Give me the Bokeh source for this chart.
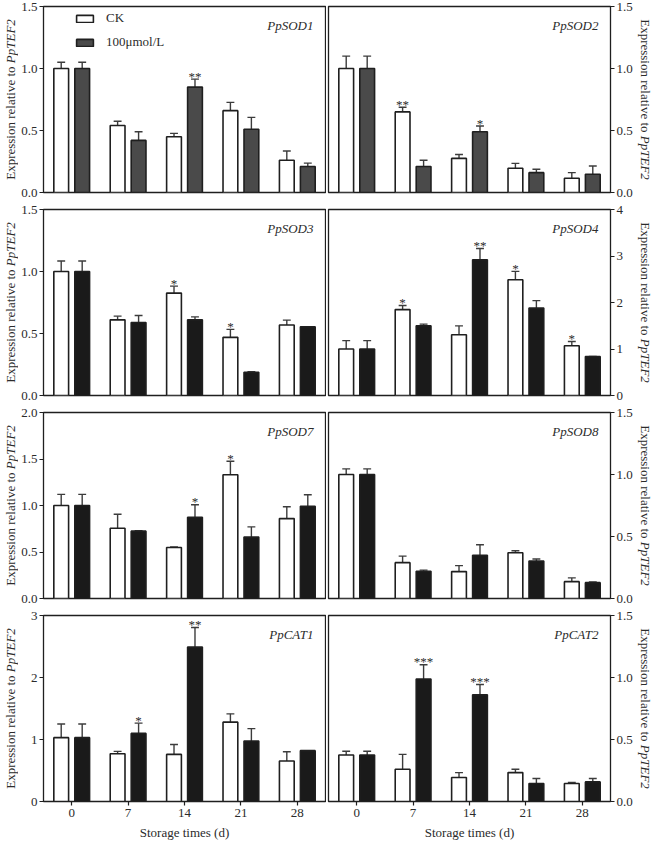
import math
from bokeh.plotting import figure
from bokeh.models import (FactorRange, Range1d, FixedTicker, PrintfTickFormatter,
                          ColumnDataSource, Label)
from bokeh.transform import dodge
from bokeh.layouts import gridplot, row
from bokeh.core.properties import value
from bokeh.embed import file_html
from bokeh.resources import INLINE

# ---------------- data ----------------
days = ["0", "7", "14", "21", "28"]
series_names = ["CK", "100μmol/L"]
genes = ["PpSOD1", "PpSOD2", "PpSOD3", "PpSOD4", "PpSOD7", "PpSOD8", "PpCAT1", "PpCAT2"]

sod1_ck = [1.00, 0.54, 0.45, 0.66, 0.26]
sod1_ck_err = [0.05, 0.035, 0.027, 0.067, 0.075]
sod1_tr = [1.00, 0.42, 0.85, 0.51, 0.21]
sod1_tr_err = [0.05, 0.07, 0.064, 0.096, 0.027]
sod1_ck_sig = ["", "", "", "", ""]
sod1_tr_sig = ["", "", "**", "", ""]

sod2_ck = [1.00, 0.65, 0.275, 0.195, 0.115]
sod2_ck_err = [0.10, 0.037, 0.032, 0.04, 0.045]
sod2_tr = [1.00, 0.21, 0.49, 0.16, 0.147]
sod2_tr_err = [0.10, 0.05, 0.046, 0.027, 0.067]
sod2_ck_sig = ["", "**", "", "", ""]
sod2_tr_sig = ["", "", "*", "", ""]

sod3_ck = [1.00, 0.61, 0.826, 0.469, 0.568]
sod3_ck_err = [0.085, 0.03, 0.056, 0.064, 0.04]
sod3_tr = [1.00, 0.589, 0.61, 0.187, 0.554]
sod3_tr_err = [0.085, 0.056, 0.024, 0.004, 0.0]
sod3_ck_sig = ["", "", "*", "*", ""]
sod3_tr_sig = ["", "", "", "", ""]

sod4_ck = [1.00, 1.847, 1.307, 2.49, 1.07]
sod4_ck_err = [0.18, 0.09, 0.19, 0.18, 0.09]
sod4_tr = [1.00, 1.50, 2.92, 1.88, 0.838]
sod4_tr_err = [0.18, 0.035, 0.24, 0.16, 0.0]
sod4_ck_sig = ["", "*", "", "*", "*"]
sod4_tr_sig = ["", "", "**", "", ""]

sod7_ck = [1.00, 0.756, 0.549, 1.33, 0.859]
sod7_ck_err = [0.12, 0.15, 0.006, 0.146, 0.128]
sod7_tr = [1.00, 0.724, 0.873, 0.66, 0.991]
sod7_tr_err = [0.12, 0.005, 0.135, 0.11, 0.125]
sod7_ck_sig = ["", "", "", "*", ""]
sod7_tr_sig = ["", "", "*", "", ""]

sod8_ck = [1.00, 0.289, 0.217, 0.369, 0.136]
sod8_ck_err = [0.045, 0.053, 0.048, 0.016, 0.03]
sod8_tr = [1.00, 0.219, 0.348, 0.302, 0.128]
sod8_tr_err = [0.045, 0.01, 0.085, 0.016, 0.005]
sod8_ck_sig = ["", "", "", "", ""]
sod8_tr_sig = ["", "", "", "", ""]

cat1_ck = [1.03, 0.771, 0.76, 1.28, 0.653]
cat1_ck_err = [0.22, 0.038, 0.16, 0.134, 0.15]
cat1_tr = [1.03, 1.098, 2.49, 0.975, 0.82]
cat1_tr_err = [0.22, 0.166, 0.316, 0.2, 0.0]
cat1_ck_sig = ["", "", "", "", ""]
cat1_tr_sig = ["", "*", "**", "", ""]

cat2_ck = [0.375, 0.26, 0.193, 0.233, 0.145]
cat2_ck_err = [0.03, 0.12, 0.04, 0.027, 0.008]
cat2_tr = [0.375, 0.988, 0.86, 0.145, 0.158]
cat2_tr_err = [0.03, 0.115, 0.083, 0.04, 0.027]
cat2_ck_sig = ["", "", "", "", ""]
cat2_tr_sig = ["", "***", "***", "", ""]

y_max = [1.5, 1.5, 1.5, 4, 2.0, 1.5, 3, 1.5]
ticks_a = [0, 0.5, 1.0, 1.5]
ticks_b = [0, 1, 2, 3, 4]
ticks_c = [0, 0.5, 1.0, 1.5, 2.0]
ticks_d = [0, 1, 2, 3]
y_ticks = [ticks_a, ticks_a, ticks_a, ticks_b, ticks_c, ticks_a, ticks_d, ticks_a]
tick_fmt = ["%.1f", "%.1f", "%.1f", "%d", "%.1f", "%.1f", "%d", "%.1f"]

ylab_regular = "Expression relative to "
ylab_italic = "PpTEF2"
xlab = "Storage times (d)"

panels = [
    (sod1_ck, sod1_ck_err, sod1_tr, sod1_tr_err, sod1_ck_sig, sod1_tr_sig),
    (sod2_ck, sod2_ck_err, sod2_tr, sod2_tr_err, sod2_ck_sig, sod2_tr_sig),
    (sod3_ck, sod3_ck_err, sod3_tr, sod3_tr_err, sod3_ck_sig, sod3_tr_sig),
    (sod4_ck, sod4_ck_err, sod4_tr, sod4_tr_err, sod4_ck_sig, sod4_tr_sig),
    (sod7_ck, sod7_ck_err, sod7_tr, sod7_tr_err, sod7_ck_sig, sod7_tr_sig),
    (sod8_ck, sod8_ck_err, sod8_tr, sod8_tr_err, sod8_ck_sig, sod8_tr_sig),
    (cat1_ck, cat1_ck_err, cat1_tr, cat1_tr_err, cat1_ck_sig, cat1_tr_sig),
    (cat2_ck, cat2_ck_err, cat2_tr, cat2_tr_err, cat2_ck_sig, cat2_tr_sig),
]

# ---------------- style / layout ----------------
FONT = "Liberation Serif"
FW, FH = 283, 186          # frame size
TXT = "#2b2b2b"
LINE = "#1f1f1f"
ERR = "#3c3c3c"
CK_FILL = "white"
TR_FILL_TOP = "#4a4a4a"
TR_FILL = "#1a1a1a"
OFF = 0.186
BW = 0.262
CAP = 0.07
REG_LEN = 116.6
YLAB_LEN = REG_LEN + 44.0

LAB_L_W, LAB_R_W = 18, 19          # side strips for the y titles
LAB_L_X, LAB_R_X = 10, 10
BORD_L = (24, 1)                   # left / right border, left column
BORD_R = (2, 24)                   # left / right border, right column
BORD_T = [6, 8, 8, 8]
BORD_B = [9, 9, 9, 43]
ROW_H = [BORD_T[r] + FH + BORD_B[r] for r in range(4)]
TOTAL_H = sum(ROW_H)


def make_panel(i):
    ck, ck_e, tr, tr_e, ck_s, tr_s = panels[i]
    r = i // 2
    left = (i % 2 == 0)
    bottom = (r == 3)
    bl, br = BORD_L if left else BORD_R
    bt, bb = BORD_T[r], BORD_B[r]
    p = figure(
        x_range=FactorRange(factors=days, range_padding=0),
        y_range=Range1d(0, y_max[i]),
        width=bl + FW + br, height=bt + FH + bb,
        min_border_left=bl, min_border_right=br,
        min_border_top=bt, min_border_bottom=bb,
        x_axis_location="below" if bottom else None,
        y_axis_location="left" if left else "right",
        toolbar_location=None, output_backend="svg",
        background_fill_color="white", border_fill_color="white",
    )
    p.grid.visible = False
    p.outline_line_color = LINE
    p.outline_line_width = 1.3

    src = ColumnDataSource(dict(
        day=days, ck=ck, tr=tr,
        ck_top=[a + b for a, b in zip(ck, ck_e)],
        tr_top=[a + b for a, b in zip(tr, tr_e)],
        ck_sig=ck_s, tr_sig=tr_s,
    ))
    rng = p.x_range
    for off, val, top in [(-OFF, "ck", "ck_top"), (OFF, "tr", "tr_top")]:
        p.segment(x0=dodge("day", off, range=rng), y0=val,
                  x1=dodge("day", off, range=rng), y1=top,
                  source=src, line_color=ERR, line_width=1.4)
        p.segment(x0=dodge("day", off - CAP, range=rng), y0=top,
                  x1=dodge("day", off + CAP, range=rng), y1=top,
                  source=src, line_color=ERR, line_width=1.4)

    tr_fill = TR_FILL_TOP if i < 2 else TR_FILL
    kw_ck = dict(legend_label=series_names[0]) if i == 0 else {}
    kw_tr = dict(legend_label=series_names[1]) if i == 0 else {}
    p.vbar(x=dodge("day", -OFF, range=rng), top="ck", width=BW, bottom=0,
           source=src, fill_color=CK_FILL, line_color=LINE, line_width=1.6, **kw_ck)
    p.vbar(x=dodge("day", OFF, range=rng), top="tr", width=BW, bottom=0,
           source=src, fill_color=tr_fill, line_color=LINE, line_width=1.6, **kw_tr)

    for off, top, sig in [(-OFF, "ck_top", "ck_sig"), (OFF, "tr_top", "tr_sig")]:
        p.text(x=dodge("day", off, range=rng), y=top, text=sig, source=src,
               text_font=value(FONT), text_font_size="13px", text_color=TXT,
               text_align="center", text_baseline="alphabetic", y_offset=-3)

    ax = p.yaxis[0]
    ax.ticker = FixedTicker(ticks=y_ticks[i])
    ax.formatter = PrintfTickFormatter(format=tick_fmt[i])
    ax.major_tick_in = 0
    ax.major_tick_out = 4
    ax.minor_tick_in = 0
    ax.minor_tick_out = 0
    ax.major_label_standoff = 2
    ax.axis_line_color = LINE
    ax.major_tick_line_color = LINE
    ax.major_tick_line_width = 1.2
    ax.major_label_text_font = FONT
    ax.major_label_text_font_size = "13px"
    ax.major_label_text_color = TXT

    if bottom:
        xa = p.xaxis[0]
        xa.major_tick_in = 0
        xa.major_tick_out = 4
        xa.major_label_standoff = 3
        xa.axis_line_color = LINE
        xa.major_tick_line_color = LINE
        xa.major_tick_line_width = 1.2
        xa.major_label_text_font = FONT
        xa.major_label_text_font_size = "13px"
        xa.major_label_text_color = TXT
        xa.axis_label = xlab
        xa.axis_label_standoff = 5
        xa.axis_label_text_font = FONT
        xa.axis_label_text_font_size = "13px"
        xa.axis_label_text_font_style = "normal"
        xa.axis_label_text_color = TXT

    p.add_layout(Label(x=FW - 13, y=FH - 19, x_units="screen", y_units="screen",
                       text=genes[i], text_font=FONT, text_font_size="13px",
                       text_font_style="italic", text_color=TXT,
                       text_align="right", text_baseline="middle"))

    if i == 0:
        lg = p.legend[0]
        lg.location = (31, FH - 44)
        lg.padding = 0
        lg.margin = 0
        lg.spacing = 8
        lg.glyph_width = 21
        lg.glyph_height = 9
        lg.label_height = 13
        lg.label_standoff = 11
        lg.label_text_font = FONT
        lg.label_text_font_size = "13px"
        lg.label_text_color = TXT
        lg.border_line_color = None
        lg.background_fill_alpha = 0
    return p


def make_title_strip(width, xc, left):
    """Narrow strip holding the rotated y-axis titles of one column."""
    s = figure(width=width, height=TOTAL_H, x_range=Range1d(0, width),
               y_range=Range1d(0, TOTAL_H), min_border=0,
               x_axis_location=None, y_axis_location=None,
               toolbar_location=None, output_backend="svg",
               background_fill_color="white", border_fill_color="white")
    s.grid.visible = False
    s.outline_line_color = None
    centers = []
    top = 0
    for r in range(4):
        centers.append(TOTAL_H - (top + BORD_T[r] + FH / 2))
        top += ROW_H[r]
    if left:
        y_reg = [c - YLAB_LEN / 2 for c in centers]
        y_it = [c - YLAB_LEN / 2 + REG_LEN for c in centers]
        ang = math.pi / 2
    else:
        y_reg = [c + YLAB_LEN / 2 for c in centers]
        y_it = [c + YLAB_LEN / 2 - REG_LEN for c in centers]
        ang = -math.pi / 2
    s.text(x=[xc] * 4, y=y_reg, text=[ylab_regular] * 4, angle=ang,
           text_font=value(FONT), text_font_size="13px", text_color=TXT,
           text_align="left", text_baseline="middle")
    s.text(x=[xc] * 4, y=y_it, text=[ylab_italic] * 4, angle=ang,
           text_font=value(FONT), text_font_size="13px", text_color=TXT,
           text_font_style="italic", text_align="left", text_baseline="middle")
    return s


figs = [make_panel(i) for i in range(8)]
grid = gridplot([[figs[0], figs[1]], [figs[2], figs[3]],
                 [figs[4], figs[5]], [figs[6], figs[7]]],
                toolbar_location=None)
strip_l = make_title_strip(LAB_L_W, LAB_L_X, True)
strip_r = make_title_strip(LAB_R_W, LAB_R_X, False)
page = row(strip_l, grid, strip_r)

open("out.html", "w").write(file_html(page, INLINE))
